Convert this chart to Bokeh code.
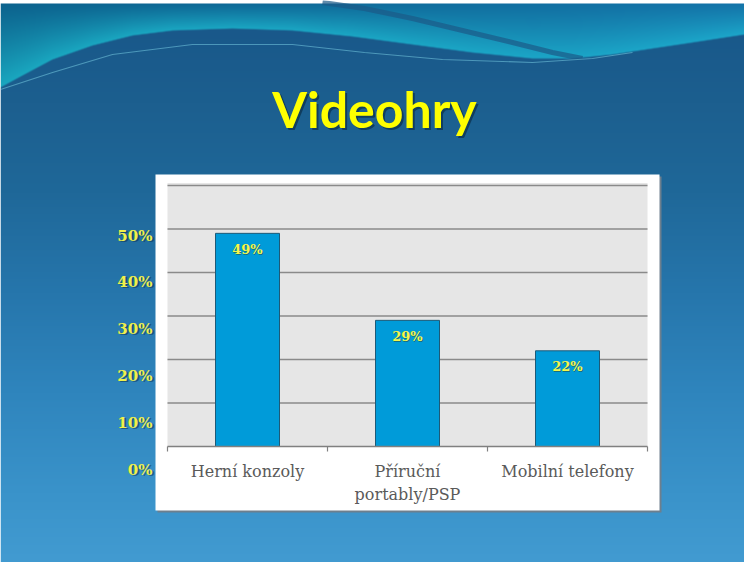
import numpy as np
from bokeh.plotting import figure
from bokeh.models import Range1d, ColumnDataSource
from bokeh.core.properties import value
from bokeh.embed import file_html
from bokeh.resources import INLINE

# ---------------- data ----------------
title_text = "Videohry"
categories = ["Herní konzoly", "Příruční\nportably/PSP", "Mobilní telefony"]
shares = [49, 29, 22]
bar_labels = ["49%", "29%", "22%"]
grid_values = [10, 20, 30, 40, 50, 60]
tick_values = [0, 10, 20, 30, 40, 50]
tick_labels = ["0%", "10%", "20%", "30%", "40%", "50%"]

# ---------------- layout (page pixel coordinates) ----------------
W, H = 744, 562
PX0, PY0 = 8, 8                      # page offset of the canvas
X_FIRST, DX = 255.0, 160.0           # first category centre, px per category
Y_ZERO, DY = 454.0, 4.35             # 0 % line, px per percent
LAB_ZERO, LAB_DY = 477.0, 4.68       # y tick labels (slide offsets them)

x_range = Range1d((PX0 - X_FIRST) / DX, (PX0 + W - X_FIRST) / DX)
y_range = Range1d((Y_ZERO - (PY0 + H)) / DY, (Y_ZERO - PY0) / DY)

p = figure(width=W, height=H, x_range=x_range, y_range=y_range,
           output_backend="svg", toolbar_location=None,
           x_axis_type=None, y_axis_type=None, min_border=0,
           border_fill_color="white", background_fill_color="white",
           outline_line_color=None)
p.grid.visible = False
p.extra_x_ranges = {"px": Range1d(PX0, PX0 + W)}
p.extra_y_ranges = {
    "py": Range1d(PY0 + H, PY0),
    "img": Range1d(0, H),
    "lab": Range1d((LAB_ZERO - (PY0 + H)) / LAB_DY, (LAB_ZERO - PY0) / LAB_DY),
}

# ---------------- slide background (gradient + wave) ----------------
top_edge = 11
NR, NC = PY0 + H - top_edge, W
Yr = (PY0 + H - 0.5) - np.arange(NR)          # page y of each row (row 0 = bottom)
Xc = PX0 + 0.5 + np.arange(NC)

wave_x = [6, 30, 60, 100, 140, 180, 240, 300, 360, 420, 480, 540, 580, 620, 660, 700, 752]
wave_y = [96, 83, 67, 53, 43, 38, 36, 38, 44, 52, 60, 66, 66, 62, 56, 50, 42]
Ax = np.interp(Xc, wave_x, wave_y)

def hexrgb(h):
    h = h.lstrip("#")
    return np.array([int(h[i:i + 2], 16) for i in (0, 2, 4)], dtype=float)

main_stops_y = [35, 110, 200, 300, 400, 500, 570]
main_stops_c = [hexrgb(c) for c in ["#19588a", "#1c5f8f", "#1f6899", "#2676ac",
                                    "#2f85bd", "#3a93ca", "#429bd1"]]
main = np.stack([np.interp(Yr, main_stops_y, [c[k] for c in main_stops_c]) for k in range(3)], axis=-1)
main = np.broadcast_to(main[:, None, :], (NR, NC, 3))

fx = (Xc - PX0) / W
top_col = hexrgb("#0c638e")[None, :] * (1 - fx[:, None]) + hexrgb("#1474a9")[None, :] * fx[:, None]
bot_col = hexrgb("#1aa8c0")[None, :] * (1 - fx[:, None]) + hexrgb("#1ca6ca")[None, :] * fx[:, None]
t = np.clip((Yr[:, None] - top_edge) / (Ax[None, :] - top_edge), 0, 1) ** 1.1
topc = top_col[None, :, :] * (1 - t[..., None]) + bot_col[None, :, :] * t[..., None]

wgt = np.clip((Ax[None, :] - Yr[:, None]) / 1.5 + 0.5, 0, 1)[..., None]
rgb = topc * wgt + main * (1 - wgt)

img = np.empty((NR, NC), dtype=np.uint32)
view = img.view(dtype=np.uint8).reshape((NR, NC, 4))
view[..., :3] = np.clip(rgb, 0, 255).astype(np.uint8)
view[..., 3] = 255
p.image_rgba(image=[img], x=PX0, y=0, dw=W, dh=NR, x_range_name="px", y_range_name="img")

# wave streaks
p.line(x=[330, 372, 420, 470, 520, 560, 590], y=[10, 16, 26, 38, 50, 60, 66],
       line_color="#1b5a88", line_width=5, line_alpha=0.7,
       x_range_name="px", y_range_name="py")
p.line(x=[8, 60, 120, 200, 300, 372, 450, 540, 600, 640],
       y=[97, 80, 62, 52, 52, 60, 67, 70, 66, 60],
       line_color="#7fd6ea", line_width=1.2, line_alpha=0.5,
       x_range_name="px", y_range_name="py")

# ---------------- title ----------------
TITLE_Y = 116
p.text(x=[382 + 2], y=[TITLE_Y + 2], text=[title_text], x_range_name="px", y_range_name="py",
       text_align="center", text_baseline="alphabetic", text_font=value("Lato"),
       text_font_style="bold", text_font_size=value("50px"), text_color="#08263c", text_alpha=0.6)
p.text(x=[382], y=[TITLE_Y], text=[title_text], x_range_name="px", y_range_name="py",
       text_align="center", text_baseline="alphabetic", text_font=value("Lato"),
       text_font_style="bold", text_font_size=value("50px"), text_color="#ffff00")

# ---------------- chart box ----------------
p.quad(left=[165], right=[669], top=[184], bottom=[520], x_range_name="px", y_range_name="py",
       fill_color="#6d7f8e", line_color=None)
p.quad(left=[163], right=[667], top=[182], bottom=[518], x_range_name="px", y_range_name="py",
       fill_color="white", line_color=None)

n = len(categories)
idx = list(range(n))
left_edge, right_edge = -0.5, n - 0.5

p.quad(left=[left_edge], right=[right_edge], bottom=[0], top=[max(grid_values) + 0.6],
       fill_color="#e6e6e6", line_color=None)
p.segment(x0=[left_edge] * len(grid_values), x1=[right_edge] * len(grid_values),
          y0=grid_values, y1=grid_values, line_color="#8a8a8a", line_width=1.6)

src = ColumnDataSource(dict(x=idx, top=shares, lab=bar_labels))
p.vbar(x="x", top="top", bottom=0, width=0.4, source=src,
       fill_color="#009bd9", line_color="#1d5a78", line_width=1)

# x axis line and ticks
p.segment(x0=[left_edge], x1=[right_edge], y0=[0], y1=[0], line_color="#808080", line_width=1.5)
bounds = [i - 0.5 for i in range(n + 1)]
p.segment(x0=bounds, x1=bounds, y0=[0] * len(bounds), y1=[-5 / DY] * len(bounds),
          line_color="#808080", line_width=1.2)

# bar value labels
p.text(x="x", y="top", text="lab", source=src, x_offset=1, y_offset=17,
       text_align="center", text_baseline="middle", text_font=value("DejaVu Serif"),
       text_font_style="bold", text_font_size=value("13px"), text_color="#2a4a30", text_alpha=0.55)
p.text(x="x", y="top", text="lab", source=src, y_offset=16,
       text_align="center", text_baseline="middle", text_font=value("DejaVu Serif"),
       text_font_style="bold", text_font_size=value("13px"), text_color="#f6f64a")

# category labels
p.text(x=idx, y=[469] * n, text=categories, y_range_name="py",
       text_align="center", text_baseline="top", text_font=value("DejaVu Serif"),
       text_font_size=value("16px"), text_color="#5a5a5a", text_line_height=1.25)

# y tick labels
p.text(x=[161] * len(tick_values), y=tick_values, text=tick_labels,
       x_range_name="px", y_range_name="lab", x_offset=1, y_offset=1,
       text_align="right", text_baseline="middle", text_font=value("DejaVu Serif"),
       text_font_style="bold", text_font_size=value("15px"), text_color="#0b2b40", text_alpha=0.5)
p.text(x=[160] * len(tick_values), y=tick_values, text=tick_labels,
       x_range_name="px", y_range_name="lab",
       text_align="right", text_baseline="middle", text_font=value("DejaVu Serif"),
       text_font_style="bold", text_font_size=value("15px"), text_color="#f0f04a")

open("out.html", "w").write(file_html(p, INLINE))
